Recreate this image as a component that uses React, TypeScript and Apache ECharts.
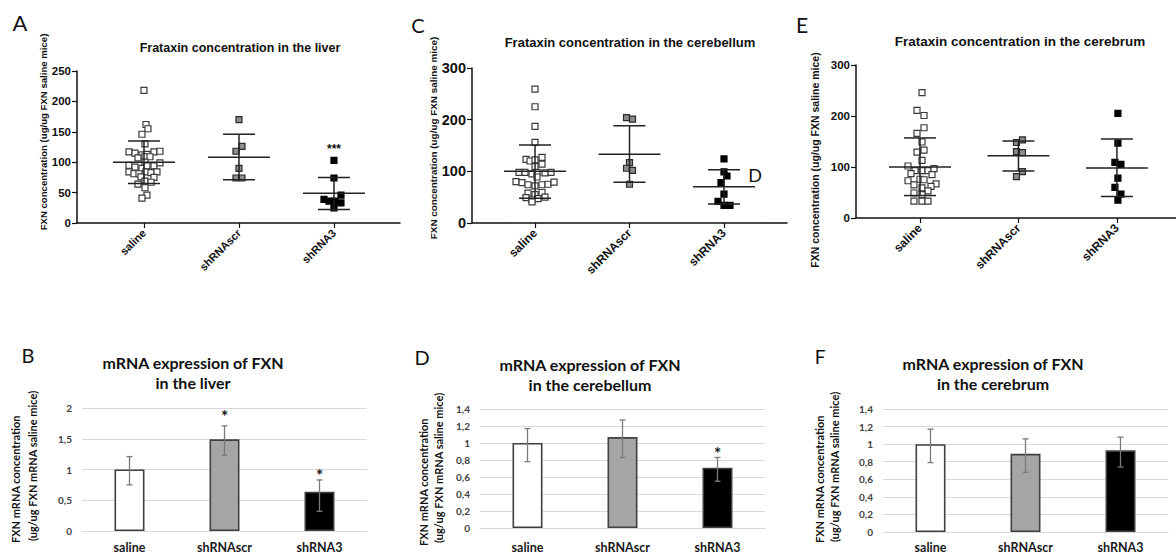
import React, { useEffect, useRef } from "react";
import * as echarts from "echarts";

// ---------- data ----------
const cats = ["saline", "shRNAscr", "shRNA3"];

// A: liver protein (scatter)
const aSaline = [218, 162, 155, 146, 130, 117, 115, 112, 113, 117, 118, 107, 109, 109, 100, 95, 92, 90, 94, 94, 99, 84, 81, 81, 84, 83, 84, 76, 75, 69, 67, 64, 58, 46, 41];
const aSalineJit = [0, 2, 4, -2, 1, -15, -9, -2, 3, 10, 16, -6, 1, 6, 1, -15, -9, -2, 3, 10, 16, -15, -10, -5, 2, 7, 13, -3, 10, 1, 7, -6, 1, 3, -2];
const aScr = [170, 126, 118, 90, 74, 74];
const aScrJit = [0, 3, -3, 0, -3, 3];
const aSh3 = [103, 74, 46, 39, 36, 36, 33, 25];
const aSh3Jit = [0, 0, 7, -10, -5, 1, 7, 0];
const aMean = [100, 108, 49];
const aLo = [65, 71, 22];
const aHi = [135, 146, 75];

// C: cerebellum protein
const cSaline = [259, 225, 187, 156, 123, 120, 122, 127, 114, 109, 98, 98, 95, 98, 97, 98, 89, 80, 78, 74, 72, 74, 75, 79, 58, 55, 59, 49, 45, 47, 50, 41];
const cSalineJit = [0, 0, 0, 0, -9, -5, 0, 7, 7, 0, -16, -10, -3, 2, 10, 16, 2, -19, -13, -7, 0, 7, 13, 19, -7, 0, 7, -9, -3, 3, 10, -3];
const cScr = [204, 201, 117, 106, 102, 75];
const cScrJit = [-3, 3, 0, -3, 3, 0];
const cSh3 = [124, 99, 91, 78, 56, 42, 34, 34];
const cSh3Jit = [0, 0, 3, -3, 0, -6, 0, 6];
const cMean = [100, 133, 70];
const cLo = [48, 79, 37];
const cHi = [151, 188, 103];

// E: cerebrum protein
const eSaline = [246, 211, 201, 177, 166, 149, 129, 133, 113, 102, 93, 93, 93, 97, 87, 85, 76, 75, 73, 67, 65, 62, 59, 53, 49, 46, 33, 33, 33];
const eSalineJit = [2, -3, 4, 4, -3, 2, -3, 4, 2, -12, -5, 2, 8, 14, -9, 12, 0, 4, -12, 16, -6, 11, 2, 8, -6, 2, -6, 2, 8];
const eScr = [148, 153, 130, 128, 91, 81];
const eScrJit = [-2, 4, -2, 4, 4, -2];
const eSh3 = [205, 147, 109, 105, 78, 60, 47, 35];
const eSh3Jit = [1, 1, -2, 4, 1, -2, 4, 1];
const eMean = [100, 122, 98];
const eLo = [44, 92, 42];
const eHi = [157, 151, 155];

// B, D, F: mRNA expression (bars)
const bMean = [1.0, 1.49, 0.64];
const bLo = [0.75, 1.23, 0.32];
const bHi = [1.21, 1.71, 0.83];
const bStar = [null, 1.92, 0.96];

const dMean = [1.0, 1.07, 0.71];
const dLo = [0.78, 0.83, 0.55];
const dHi = [1.17, 1.27, 0.83];
const dStar = [null, null, 0.92];

const fMean = [1.0, 0.89, 0.93];
const fLo = [0.79, 0.68, 0.74];
const fHi = [1.17, 1.06, 1.08];

const aSignif = 126; // "***" level in panel A

// ---------- styles ----------
const ARIAL = '"Liberation Sans", Arial, sans-serif';
const CAL = 'Lato, "Open Sans", sans-serif';
const markerFill = ["#ffffff", "#8c8c8c", "#000000"];
const markerBorder = ["#3a3a3a", "#2a2a2a", "#000000"];
const barFill = ["#ffffff", "#a5a5a5", "#000000"];

function pts(vals: number[], jit: number[], cat: number) {
  return vals.map((v, i) => ({ value: [cat, v], symbolOffset: [jit[i], 0] }));
}

function meanSdRender(params: any, api: any) {
  const x = api.value(0);
  const pm = api.coord([x, api.value(1)]);
  const pl = api.coord([x, api.value(2)]);
  const ph = api.coord([x, api.value(3)]);
  const W = 31;
  const C = 16;
  const st = { stroke: "#222", lineWidth: 1.5 };
  return {
    type: "group",
    children: [
      { type: "line", shape: { x1: pm[0] - W, y1: pm[1], x2: pm[0] + W, y2: pm[1] }, style: st },
      { type: "line", shape: { x1: pl[0], y1: pl[1], x2: ph[0], y2: ph[1] }, style: st },
      { type: "line", shape: { x1: pl[0] - C, y1: pl[1], x2: pl[0] + C, y2: pl[1] }, style: st },
      { type: "line", shape: { x1: ph[0] - C, y1: ph[1], x2: ph[0] + C, y2: ph[1] }, style: st },
    ],
  };
}

function errRender(params: any, api: any) {
  const x = api.value(0);
  const pl = api.coord([x, api.value(1)]);
  const ph = api.coord([x, api.value(2)]);
  const C = 3;
  const st = { stroke: "#7a7a7a", lineWidth: 1.3 };
  return {
    type: "group",
    children: [
      { type: "line", shape: { x1: pl[0], y1: pl[1], x2: ph[0], y2: ph[1] }, style: st },
      { type: "line", shape: { x1: pl[0] - C, y1: pl[1], x2: pl[0] + C, y2: pl[1] }, style: st },
      { type: "line", shape: { x1: ph[0] - C, y1: ph[1], x2: ph[0] + C, y2: ph[1] }, style: st },
    ],
  };
}

function starRender(txt: string, size: number, font: string) {
  return (params: any, api: any) => {
    const p = api.coord([api.value(0), api.value(1)]);
    return {
      type: "text",
      x: p[0],
      y: p[1] + size * 0.22,
      style: {
        text: txt,
        fill: "#111",
        font: `bold ${size}px ${font}`,
        textAlign: "center",
        textVerticalAlign: "middle",
      },
    };
  };
}

function scatterPanel(idx: number, groups: [number[], number[]][], mean: number[], lo: number[], hi: number[]) {
  const s: any[] = groups.map((g, cat) => ({
    type: "scatter",
    xAxisIndex: idx,
    yAxisIndex: idx,
    symbol: "rect",
    symbolSize: 6,
    z: 2,
    itemStyle: { color: markerFill[cat], borderColor: markerBorder[cat], borderWidth: 1.2, opacity: 1 },
    data: pts(g[0], g[1], cat),
  }));
  s.push({
    type: "custom",
    xAxisIndex: idx,
    yAxisIndex: idx,
    z: 3,
    itemStyle: { color: "#222" },
    renderItem: meanSdRender,
    encode: { x: 0, y: [1, 2, 3] },
    data: mean.map((m, i) => [i, m, lo[i], hi[i]]),
  });
  return s;
}

function barPanel(idx: number, mean: number[], lo: number[], hi: number[], stars: (number | null)[] | null) {
  const s: any[] = [
    {
      type: "bar",
      xAxisIndex: idx,
      yAxisIndex: idx,
      barWidth: 30,
      itemStyle: { borderColor: "#404040", borderWidth: 1.6 },
      data: mean.map((v, i) => ({ value: v, itemStyle: { color: barFill[i] } })),
    },
    {
      type: "custom",
      xAxisIndex: idx,
      yAxisIndex: idx,
      z: 5,
      itemStyle: { color: "#7a7a7a" },
      renderItem: errRender,
      encode: { x: 0, y: [1, 2] },
      data: mean.map((m, i) => [i, lo[i], hi[i]]),
    },
  ];
  if (stars) {
    s.push({
      type: "custom",
      xAxisIndex: idx,
      yAxisIndex: idx,
      z: 5,
      itemStyle: { color: "#111" },
      renderItem: starRender("*", 17, CAL),
      encode: { x: 0, y: 1 },
      data: stars.map((v, i) => [i, v]).filter((d) => d[1] !== null),
    });
  }
  return s;
}

function scatterX(idx: number, min: number, max: number, fs: number) {
  return {
    type: "value",
    gridIndex: idx,
    min,
    max,
    splitLine: { show: false },
    axisLine: { show: true, onZero: false, lineStyle: { color: "#111", width: 1.5 } },
    axisTick: { show: true, customValues: [0, 1, 2], length: 5, lineStyle: { color: "#111", width: 1.2 } },
    axisLabel: {
      customValues: [0, 1, 2],
      formatter: (v: number) => cats[Math.round(v)] ?? "",
      rotate: 45,
      margin: 8,
      color: "#111",
      fontFamily: ARIAL,
      fontWeight: "bold",
      fontSize: fs,
    },
  };
}

function scatterY(idx: number, max: number, interval: number, fs: number) {
  return {
    type: "value",
    gridIndex: idx,
    min: 0,
    max,
    interval,
    splitLine: { show: false },
    axisLine: { show: true, onZero: false, lineStyle: { color: "#111", width: 1.5 } },
    axisTick: { show: true, length: 5, lineStyle: { color: "#111", width: 1.2 } },
    axisLabel: { color: "#111", fontFamily: ARIAL, fontWeight: "bold", fontSize: fs, margin: 6 },
  };
}

function barX(idx: number, margin: number) {
  return {
    type: "category",
    gridIndex: idx,
    data: cats,
    axisLine: { show: true, lineStyle: { color: "#d9d9d9", width: 1 } },
    axisTick: { show: false },
    axisLabel: { color: "#1a1a1a", fontFamily: CAL, fontWeight: "bold", fontSize: 12.5, margin },
  };
}

function barY(idx: number, max: number, interval: number) {
  return {
    type: "value",
    gridIndex: idx,
    min: 0,
    max,
    interval,
    axisLine: { show: false },
    axisTick: { show: false },
    splitLine: { show: true, lineStyle: { color: "#d9d9d9", width: 1 } },
    axisLabel: {
      color: "#404040",
      fontFamily: CAL,
      fontWeight: "bold",
      fontSize: 10,
      margin: 10,
      formatter: (v: number) => String(Math.round(v * 10) / 10).replace(".", ","),
    },
  };
}

function txt(text: string, x: number, y: number, font: string, opts: any = {}) {
  return {
    type: "text",
    x,
    y,
    rotation: opts.rotation ?? 0,
    style: {
      text,
      font,
      fill: opts.fill ?? "#111",
      textAlign: opts.align ?? "center",
      textVerticalAlign: "middle",
      lineHeight: opts.lineHeight,
    },
  };
}

export default function App() {
  const ref = useRef<HTMLDivElement>(null);
  useEffect(() => {
    if (!ref.current) return;
    const chart = echarts.init(ref.current, null, { renderer: "svg" });
    const R = Math.PI / 2;
    const option: any = {
      animation: false,
      backgroundColor: "#ffffff",
      grid: [
        { left: 77, top: 71, width: 323, height: 152 },
        { left: 472, top: 68, width: 315, height: 155 },
        { left: 856, top: 65, width: 320, height: 153 },
        { left: 82, top: 408, width: 285, height: 123 },
        { left: 480, top: 409, width: 285, height: 124 },
        { left: 883, top: 409, width: 285, height: 123 },
      ],
      xAxis: [
        scatterX(0, -0.705, 2.695, 11),
        scatterX(1, -0.667, 2.667, 12),
        scatterX(2, -0.65, 2.6, 12),
        barX(3, 10),
        barX(4, 13),
        barX(5, 9),
      ],
      yAxis: [
        scatterY(0, 250, 50, 11.5),
        scatterY(1, 300, 100, 14.5),
        scatterY(2, 300, 100, 11.5),
        barY(3, 2, 0.5),
        barY(4, 1.4, 0.2),
        barY(5, 1.4, 0.2),
      ],
      series: [
        ...scatterPanel(0, [[aSaline, aSalineJit], [aScr, aScrJit], [aSh3, aSh3Jit]], aMean, aLo, aHi),
        {
          type: "custom",
          xAxisIndex: 0,
          yAxisIndex: 0,
          z: 5,
          itemStyle: { color: "#111" },
          renderItem: starRender("***", 12, ARIAL),
          encode: { x: 0, y: 1 },
          data: [[2, aSignif]],
        },
        ...scatterPanel(1, [[cSaline, cSalineJit], [cScr, cScrJit], [cSh3, cSh3Jit]], cMean, cLo, cHi),
        ...scatterPanel(2, [[eSaline, eSalineJit], [eScr, eScrJit], [eSh3, eSh3Jit]], eMean, eLo, eHi),
        ...barPanel(3, bMean, bLo, bHi, bStar),
        ...barPanel(4, dMean, dLo, dHi, dStar),
        ...barPanel(5, fMean, fLo, fHi, null),
      ],
      graphic: [
        // panel letters
        txt("A", 20, 22, `22px ${CAL}`),
        txt("C", 418, 25, `20px ${CAL}`),
        txt("E", 802, 24, `21px ${CAL}`),
        txt("B", 28, 355, `20px ${CAL}`),
        txt("D", 422, 357, `20px ${CAL}`),
        txt("F", 820, 356, `19px ${CAL}`),
        txt("D", 755, 175, `18px ${CAL}`),
        // titles
        txt("Frataxin concentration in the liver", 240, 48, `bold 12.5px ${ARIAL}`),
        txt("Frataxin concentration in the cerebellum", 630, 42, `bold 13px ${ARIAL}`),
        txt("Frataxin concentration in the cerebrum", 1020, 41, `bold 13.5px ${ARIAL}`),
        txt("mRNA expression of FXN\nin the liver", 193, 372, `bold 16px ${CAL}`, { lineHeight: 20 }),
        txt("mRNA expression of FXN\nin the cerebellum", 590, 374, `bold 16px ${CAL}`, { lineHeight: 20 }),
        txt("mRNA expression of FXN\nin the cerebrum", 993, 373, `bold 16px ${CAL}`, { lineHeight: 20 }),
        // y axis names (top)
        txt("FXN concentration (ug/ug FXN saline mice)", 43, 132, `bold 9.6px ${ARIAL}`, { rotation: R }),
        txt("FXN concentration (ug/ug FXN saline mice)", 433, 138, `bold 9.9px ${ARIAL}`, { rotation: R }),
        txt("FXN concentration (ug/ug FXN saline mice)", 815, 160, `bold 10.5px ${ARIAL}`, { rotation: R }),
        // y axis names (bottom)
        txt("FXN mRNA concentration", 15, 543, `bold 11px ${CAL}`, { rotation: R, align: "left" }),
        txt("(ug/ug FXN mRNA saline mice)", 32, 541, `bold 11px ${CAL}`, { rotation: R, align: "left" }),
        txt("FXN mRNA concentration", 423, 546, `bold 11px ${CAL}`, { rotation: R, align: "left" }),
        txt("(ug/ug FXN mRNA saline mice)", 438, 543, `bold 11px ${CAL}`, { rotation: R, align: "left" }),
        txt("FXN mRNA concentration", 819, 543, `bold 11px ${CAL}`, { rotation: R, align: "left" }),
        txt("(ug/ug FXN mRNA saline mice)", 834, 542, `bold 11px ${CAL}`, { rotation: R, align: "left" }),
      ],
    };
    chart.setOption(option);
    return () => chart.dispose();
  }, []);
  return (
    <div
      ref={ref}
      style={{ position: "absolute", left: 0, top: 0, width: 1176, height: 554, background: "#fff" }}
    />
  );
}
